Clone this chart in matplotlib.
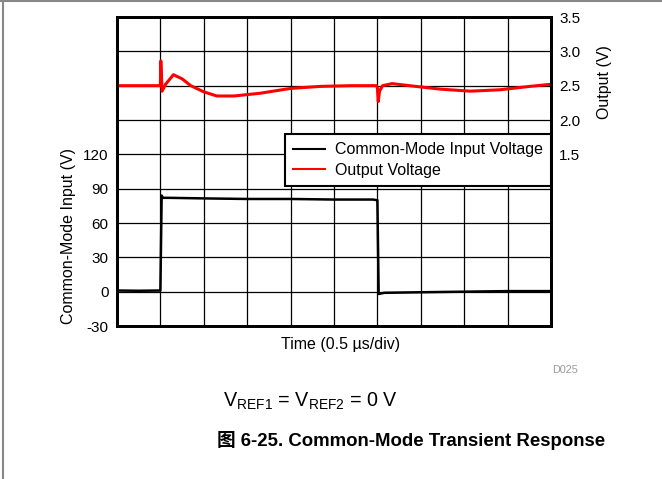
import matplotlib.pyplot as plt
from matplotlib.lines import Line2D

plt.rcParams['font.family'] = ['Liberation Sans', 'Noto Sans CJK SC', 'DejaVu Sans']

# temps en µs (0.5 µs/div)
t_in = [0.0, 0.25, 0.49, 0.5, 0.515, 0.53, 0.6, 1.0, 1.5, 2.0, 2.5, 2.95, 2.99, 3.0, 3.015, 3.08, 3.5, 4.0, 4.5, 5.0]
v_in = [1, 0.8, 1, 1, 84, 82, 82, 81.5, 81, 81, 80.5, 80.5, 80, 80, -2, -1, -0.5, 0, 0.5, 0.5]

t_out = [0.0, 0.3, 0.49, 0.5, 0.505, 0.52, 0.56, 0.65, 0.75, 0.85, 1.0, 1.15, 1.35, 1.65, 2.0, 2.35, 2.7,
         2.99, 3.0, 3.01, 3.025, 3.06, 3.17, 3.37, 3.72, 4.07, 4.41, 4.76, 5.0]
v_out = [2.5, 2.5, 2.5, 2.52, 2.86, 2.42, 2.52, 2.66, 2.6, 2.5, 2.41, 2.35, 2.35, 2.39, 2.46, 2.49, 2.5,
         2.5, 2.47, 2.27, 2.42, 2.5, 2.53, 2.5, 2.45, 2.42, 2.44, 2.49, 2.52]

left_ticks = [-30, 0, 30, 60, 90, 120]
right_ticks = [1.5, 2.0, 2.5, 3.0, 3.5]

fig = plt.figure(figsize=(6.62, 4.79), dpi=100)
ax = fig.add_axes([0.1767, 0.3194, 0.6556, 0.6451])
ax2 = ax.twinx()

ax.plot(t_in, v_in, color='black', lw=1.8)
ax2.plot(t_out, v_out, color='red', lw=2.2)

ax.set_xlim(0, 5)
ax.set_ylim(-30, 240)
ax2.set_ylim(-1.0, 3.5)

ax.set_xticks([i * 0.5 for i in range(11)])
ax.set_xticklabels([])
ax.set_yticks(range(-30, 241, 30))
ax.set_yticklabels([str(v) if v in left_ticks else '' for v in range(-30, 241, 30)])
ax2.set_yticks(right_ticks)
ax2.set_yticklabels([f'{v:.1f}' for v in right_ticks])
ax.tick_params(length=0, labelsize=11, pad=6)
ax2.tick_params(length=0, labelsize=11, pad=6)
ax.grid(True, color='black', lw=0.9)
for a in (ax, ax2):
    for s in a.spines.values():
        s.set_linewidth(2)

h = [Line2D([], [], color='black', lw=1.5), Line2D([], [], color='red', lw=1.5)]
leg = ax2.legend(h, ['Common-Mode Input Voltage', 'Output Voltage'], loc='upper right',
                 bbox_to_anchor=(1.0, 0.62), fontsize=11.5, frameon=True, fancybox=False,
                 framealpha=1, edgecolor='black', borderaxespad=0, handlelength=2.0,
                 labelspacing=0.35, borderpad=0.5, handletextpad=0.6)
leg.get_frame().set_linewidth(1.5)

fig.text(68 / 662, 1 - 236 / 479, 'Common-Mode Input (V)', rotation=90, ha='center', va='center', fontsize=11.5)
fig.text(604 / 662, 1 - 82 / 479, 'Output (V)', rotation=90, ha='center', va='center', fontsize=11.5)
fig.text(341 / 662, 1 - 344 / 479, 'Time (0.5 µs/div)', ha='center', va='center', fontsize=11.5)
fig.text(565 / 662, 1 - 370 / 479, 'D025', ha='center', va='center', fontsize=7.8, color='#999999')
fig.text(311 / 662, 1 - 401 / 479, r'$\mathregular{V_{REF1}}$ = $\mathregular{V_{REF2}}$ = 0 V',
         ha='center', va='center', fontsize=14.2)
fig.text(411 / 662, 1 - 441 / 479, '图 6-25. Common-Mode Transient Response',
         ha='center', va='center', fontsize=13.4, fontweight='bold')

fig.add_artist(Line2D([0, 1], [1 - 1 / 479, 1 - 1 / 479], color='#888888', lw=1.5))
fig.add_artist(Line2D([3 / 662, 3 / 662], [0, 1], color='#888888', lw=1.5))

fig.savefig('out.png', dpi=100)
